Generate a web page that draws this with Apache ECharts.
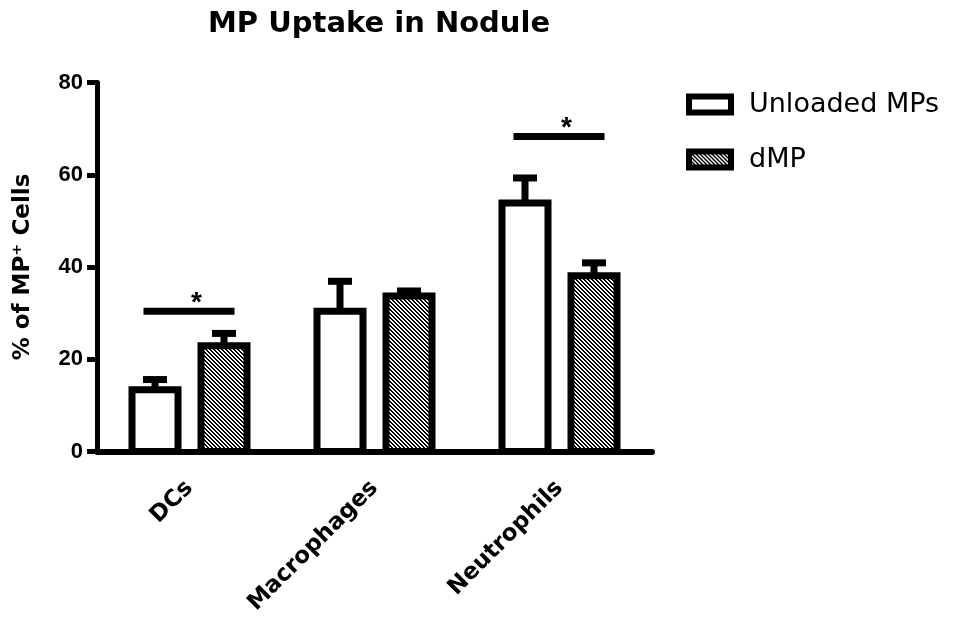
<!DOCTYPE html>
<html>
<head>
<meta charset="utf-8">
<script src="https://cdn.jsdelivr.net/npm/echarts@6/dist/echarts.min.js"></script>
<style>html,body{margin:0;padding:0;background:#fff;}#chart{width:961px;height:618px;}</style>
</head>
<body>
<div id="chart"></div>
<script>
// ---- data ----
const categories = ['DCs', 'Macrophages', 'Neutrophils'];
const unloaded = [13.4, 30.4, 53.9];
const unloadedErr = [2.2, 6.5, 5.4];
const dmp = [22.9, 33.7, 38.1];
const dmpErr = [2.7, 1.1, 2.8];
const sigCategory = [0, 2];
const sigValue = [30.4, 68.3];
const sigLabel = ['*', '*'];
const yTicks = [0, 20, 40, 60, 80];

// ---- style constants ----
const BAR_W = 46, BORDER = 7, OFFSET = 34.5;

function hatch() {
  const c = document.createElement('canvas');
  c.width = 4; c.height = 4;
  const ctx = c.getContext('2d');
  const img = ctx.createImageData(4, 4);
  for (let y = 0; y < 4; y++) for (let x = 0; x < 4; x++) {
    const k = ((x - y) % 4 + 4) % 4 < 2 ? 0 : 255;
    const i = (y * 4 + x) * 4;
    img.data[i] = img.data[i + 1] = img.data[i + 2] = k; img.data[i + 3] = 255;
  }
  ctx.putImageData(img, 0, 0);
  return c;
}
const hatchFill = { image: hatch(), repeat: 'repeat' };

function barSeries(name, vals, dir, fill) {
  return {
    name, type: 'custom', z: 2,
    itemStyle: { color: fill, borderColor: '#000', borderWidth: BORDER },
    data: vals.map((v, i) => [i, v]),
    renderItem(params, api) {
      const x = api.coord([api.value(0), 0])[0] + dir * OFFSET;
      const y0 = api.coord([api.value(0), 0])[1];
      const y1 = api.coord([api.value(0), api.value(1)])[1];
      return { type: 'rect', shape: { x: x - BAR_W / 2, y: y1, width: BAR_W, height: y0 - y1 },
        style: { fill: fill, stroke: '#000', lineWidth: BORDER } };
    }
  };
}

function errSeries(vals, errs, dir) {
  return {
    type: 'custom', silent: true, z: 1,
    data: vals.map((v, i) => [i, v, v + errs[i]]),
    renderItem(params, api) {
      const x = api.coord([api.value(0), 0])[0] + dir * OFFSET;
      const yb = api.coord([api.value(0), api.value(1)])[1];
      const yt = api.coord([api.value(0), api.value(2)])[1];
      return { type: 'group', children: [
        { type: 'line', shape: { x1: x, y1: yb, x2: x, y2: yt }, style: { stroke: '#000', lineWidth: 7 } },
        { type: 'line', shape: { x1: x - 12, y1: yt, x2: x + 12, y2: yt }, style: { stroke: '#000', lineWidth: 7 } }
      ]};
    }
  };
}

const chart = echarts.init(document.getElementById('chart'), null, { renderer: 'canvas' });
chart.setOption({
  animation: false,
  backgroundColor: '#fff',
  title: {
    text: 'MP Uptake in Nodule', left: 203, top: 5,
    textStyle: { fontFamily: 'DejaVu Sans', fontWeight: 'bold', fontSize: 29, color: '#000' }
  },
  legend: {
    orient: 'vertical', left: 686, top: 91, padding: 0, icon: 'rect',
    itemWidth: 42, itemHeight: 16, itemGap: 28,
    itemStyle: { borderWidth: 6, borderColor: '#000' },
    textStyle: { fontFamily: 'DejaVu Sans', fontSize: 27, color: '#000', padding: [0, 0, 0, 13], lineHeight: 16 },
    data: ['Unloaded MPs', 'dMP']
  },
  grid: { left: 97, right: 309, top: 82.5, bottom: 166.5, containLabel: false },
  xAxis: {
    type: 'category', data: categories,
    axisLine: { lineStyle: { color: '#000', width: 6 } },
    axisTick: { alignWithLabel: true, length: 11, lineStyle: { color: '#000', width: 5 } },
    axisLabel: { rotate: 45, margin: 33, color: '#000', fontFamily: 'DejaVu Sans', fontWeight: 'bold', fontSize: 23 }
  },
  yAxis: {
    type: 'value', min: yTicks[0], max: yTicks[yTicks.length - 1], interval: yTicks[1] - yTicks[0],
    name: '% of MP\u207A Cells', nameLocation: 'middle', nameRotate: 90, nameGap: 62,
    nameTextStyle: { fontFamily: 'DejaVu Sans', fontWeight: 'bold', fontSize: 23, color: '#000' },
    splitLine: { show: false },
    axisLine: { show: true, lineStyle: { color: '#000', width: 5 } },
    axisTick: { show: true, length: 10, lineStyle: { color: '#000', width: 5 } },
    axisLabel: { margin: 14, color: '#000', fontFamily: 'Liberation Sans', fontWeight: 'bold', fontSize: 22 }
  },
  series: [
    errSeries(unloaded, unloadedErr, -1),
    errSeries(dmp, dmpErr, 1),
    barSeries('Unloaded MPs', unloaded, -1, '#fff'),
    barSeries('dMP', dmp, 1, hatchFill),
    {
      type: 'custom', silent: true, z: 3,
      data: sigCategory.map((c, i) => [c, sigValue[i], sigLabel[i]]),
      renderItem(params, api) {
        const p = api.coord([api.value(0), api.value(1)]);
        return { type: 'group', children: [
          { type: 'line', shape: { x1: p[0] - 46, y1: p[1], x2: p[0] + 45, y2: p[1] }, style: { stroke: '#000', lineWidth: 7 } },
          { type: 'text', style: { text: api.value(2), x: p[0] + 7, y: p[1] - 8, align: 'center', verticalAlign: 'middle',
            font: 'bold 28px "Liberation Sans"', fill: '#000' } }
        ]};
      }
    }
  ]
});
</script>
</body>
</html>
